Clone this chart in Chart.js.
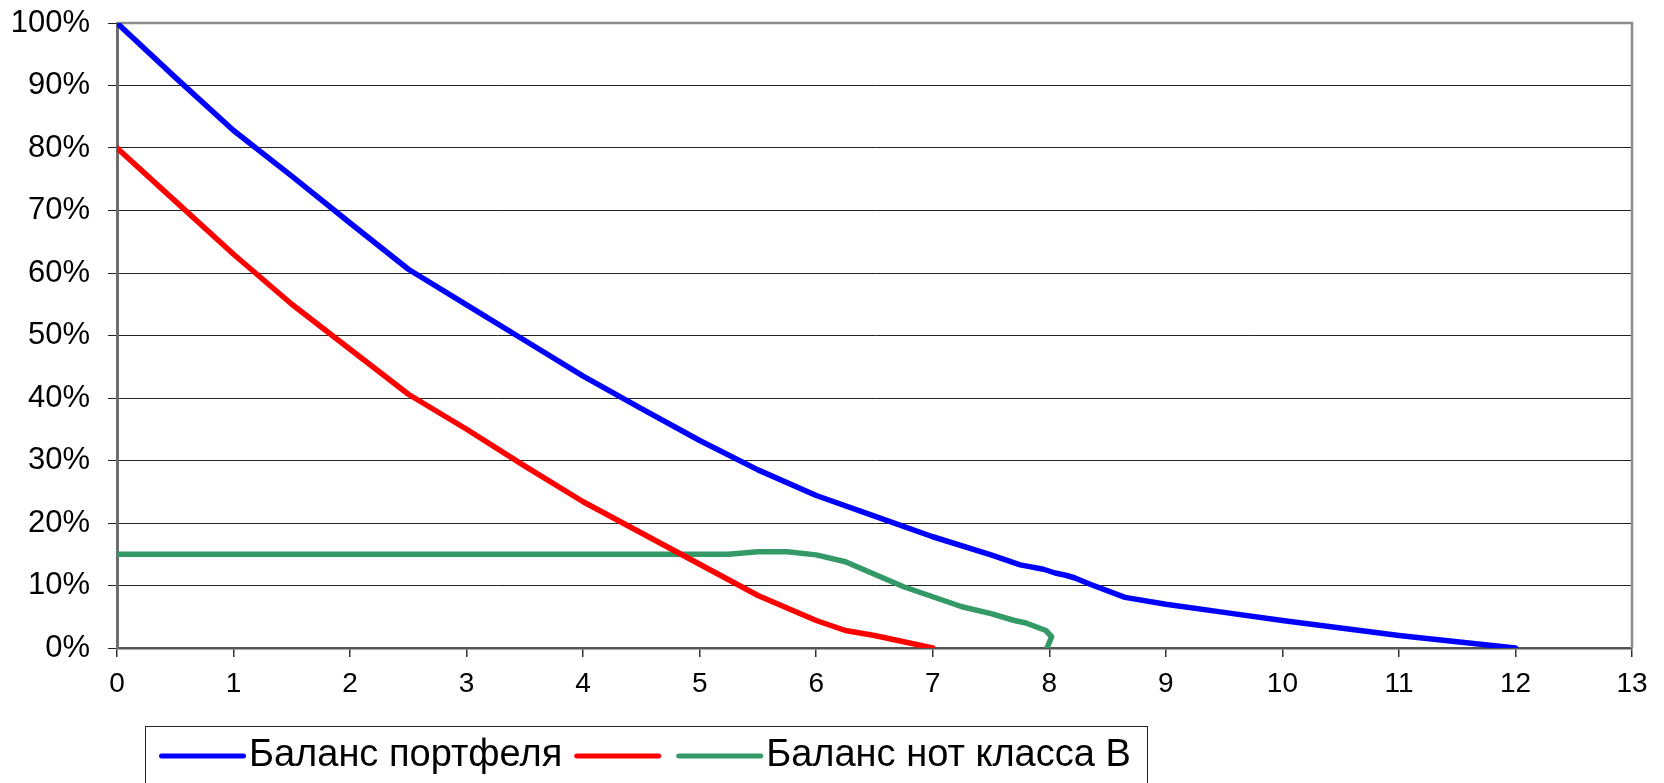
<!DOCTYPE html>
<html>
<head>
<meta charset="utf-8">
<script src="https://cdn.jsdelivr.net/npm/chart.js@4/dist/chart.umd.min.js"></script>
<style>
  html, body { margin: 0; padding: 0; background: #fff; }
  #wrap { width: 1664px; height: 783px; position: relative; }
</style>
</head>
<body>
<div id="wrap"><canvas id="chart"></canvas></div>
<script>
// Series labels
const seriesNames = ['Баланс портфеля', '', 'Баланс нот класса B'];

// Portfolio balance, % of initial, by year
const portfolioYears   = [0, 0.5, 1, 1.5, 2, 2.5, 3, 3.5, 4, 4.5, 5, 5.5, 6, 6.5, 7, 7.5, 7.75, 7.95, 8.05, 8.15, 8.22, 8.35, 8.65, 9, 9.5, 10, 10.5, 11, 11.5, 12];
const portfolioBalance = [100, 91.3, 82.8, 75.5, 68.0, 60.6, 54.9, 49.2, 43.5, 38.3, 33.2, 28.5, 24.4, 21.1, 17.8, 14.9, 13.3, 12.6, 12.0, 11.6, 11.2, 10.2, 8.1, 7.0, 5.7, 4.4, 3.2, 2.0, 1.0, 0];

// Senior notes balance
const classAYears   = [0, 0.5, 1, 1.5, 2, 2.5, 3, 3.5, 4, 4.5, 5, 5.5, 6, 6.25, 6.5, 7];
const classABalance = [80, 71.5, 63.0, 55.0, 47.8, 40.6, 35.0, 29.1, 23.4, 18.4, 13.4, 8.4, 4.4, 2.8, 2.0, 0];

// Class B notes balance
const classBYears   = [0, 1, 2, 3, 4, 5, 5.25, 5.5, 5.75, 6, 6.25, 6.5, 6.75, 7, 7.25, 7.5, 7.7, 7.8, 7.97, 8.02, 7.98];
const classBBalance = [15, 15, 15, 15, 15, 15, 15, 15.4, 15.4, 14.9, 13.8, 11.8, 9.8, 8.2, 6.6, 5.5, 4.4, 4.0, 2.8, 1.8, 0];

// Axis ranges
const yearRange = [0, 13];
const percentRange = [0, 100];

const FONT = '"Liberation Sans", Arial, sans-serif';
const LINE_W = 5.5;
const LEGEND_FONT = 38;
const LEGEND_BOX = 70;
const toPoints = (xs, ys) => xs.map((x, i) => ({ x, y: ys[i] }));

function lineSet(label, xs, ys, color) {
  return {
    label,
    data: toPoints(xs, ys),
    borderColor: color,
    backgroundColor: color,
    borderWidth: LINE_W,
    borderJoinStyle: 'round',
    borderCapStyle: 'round',
    pointRadius: 0,
    pointHoverRadius: 0,
    tension: 0,
    fill: false
  };
}

// Legend marker: a short line that runs close up to its label text
function legendSwatch(color) {
  const half = 54;
  const c = document.createElement('canvas');
  c.width = half * 2;
  c.height = 12;
  const g = c.getContext('2d');
  const textStart = LEGEND_BOX / 2 + LEGEND_FONT / 2;
  g.strokeStyle = color;
  g.lineWidth = 5;
  g.lineCap = 'round';
  g.beginPath();
  g.moveTo(half + textStart - 87.5, 6);
  g.lineTo(half + textStart - 5.5, 6);
  g.stroke();
  return c;
}

// Grey frame along the top and right of the plot area
const plotFrame = {
  id: 'plotFrame',
  beforeDatasetsDraw(chart) {
    const { ctx, chartArea: a } = chart;
    ctx.save();
    ctx.strokeStyle = '#8c8c8c';
    ctx.lineWidth = 2.5;
    ctx.beginPath();
    ctx.moveTo(a.left, a.top);
    ctx.lineTo(a.right, a.top);
    ctx.lineTo(a.right, a.bottom);
    ctx.stroke();
    ctx.restore();
  }
};

// Legend sits in a framed box, offset from the left edge
const legendBox = {
  id: 'legendBox',
  afterLayout(chart) {
    const lg = chart.legend;
    const dx = 147;
    const dy = 5;
    lg.left += dx;
    lg.right += dx;
    lg.top += dy;
    lg.bottom += dy;
  },
  afterDraw(chart) {
    const lg = chart.legend;
    const boxes = lg.legendHitBoxes;
    if (!boxes || !boxes.length) return;
    const first = boxes[0];
    const last = boxes[boxes.length - 1];
    const x0 = Math.round(first.left - 15) + 0.5;
    const x1 = Math.round(last.left + last.width + 16) + 0.5;
    const y0 = Math.round(lg.top + 2) + 0.5;
    const { ctx } = chart;
    ctx.save();
    ctx.strokeStyle = '#222';
    ctx.lineWidth = 1;
    ctx.strokeRect(x0, y0, x1 - x0, chart.height + 20 - y0);
    ctx.restore();
  }
};

new Chart(document.getElementById('chart'), {
  type: 'line',
  data: {
    datasets: [
      lineSet(seriesNames[0], portfolioYears, portfolioBalance, '#0000ff'),
      lineSet(seriesNames[1], classAYears, classABalance, '#ff0000'),
      lineSet(seriesNames[2], classBYears, classBBalance, '#339966')
    ]
  },
  options: {
    responsive: true,
    maintainAspectRatio: false,
    animation: false,
    events: [],
    layout: { padding: { left: 0, right: 32, top: 23, bottom: 3 } },
    plugins: {
      tooltip: { enabled: false },
      legend: {
        position: 'bottom',
        align: 'start',
        labels: {
          usePointStyle: true,
          pointStyleWidth: LEGEND_BOX,
          padding: 13,
          color: '#000',
          font: { family: FONT, size: LEGEND_FONT },
          generateLabels(chart) {
            const items = Chart.defaults.plugins.legend.labels.generateLabels(chart);
            items.forEach(it => {
              const ds = chart.data.datasets[it.datasetIndex];
              it.pointStyle = legendSwatch(ds.borderColor);
              it.strokeStyle = ds.borderColor;
              it.fillStyle = ds.borderColor;
              it.lineWidth = 0;
            });
            return items;
          }
        }
      }
    },
    scales: {
      x: {
        type: 'linear',
        min: yearRange[0],
        max: yearRange[1],
        ticks: {
          stepSize: 1,
          padding: 10,
          color: '#000',
          maxRotation: 0,
          autoSkip: false,
          font: { family: FONT, size: 28 }
        },
        grid: { drawOnChartArea: false, tickLength: 9, color: '#333', lineWidth: 1.5 },
        border: { color: '#555', width: 2.5 },
        afterFit(scale) { scale.height = 71; }
      },
      y: {
        min: percentRange[0],
        max: percentRange[1],
        ticks: {
          stepSize: 10,
          padding: 18,
          color: '#000',
          font: { family: FONT, size: 31 },
          callback: v => v + '%'
        },
        grid: { color: '#222', lineWidth: 1, tickLength: 9 },
        border: { color: '#6e6e6e', width: 3 },
        afterFit(scale) {
          scale.width = 117;
          scale.paddingTop = 0;
          scale.paddingBottom = 0;
        }
      }
    }
  },
  plugins: [plotFrame, legendBox]
});
</script>
</body>
</html>
